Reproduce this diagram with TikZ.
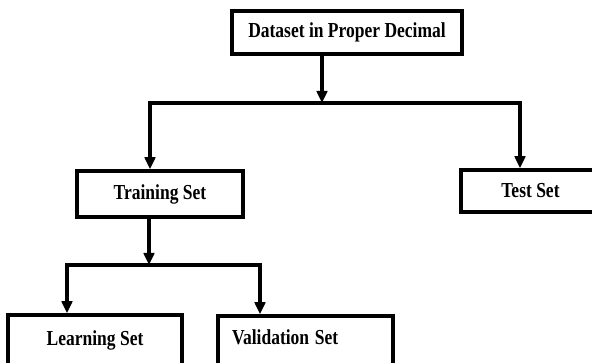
\documentclass[tikz,border=0pt]{standalone}
\usepackage{fontspec}
\setmainfont{Liberation Serif}
\usetikzlibrary{arrows.meta}
\newcommand{\boxtext}[1]{\scalebox{1}[1.22]{#1}}
\begin{document}
\begin{tikzpicture}[x=1pt,y=-1pt,
  box/.style={draw, line width=3.5pt, inner sep=0pt, font=\fontsize{17.5}{20}\selectfont\bfseries, align=center},
  conn/.style={line width=3.3pt, line join=miter},
  arr/.style={conn, -{Triangle[length=12pt,width=10.5pt]}},
  fork/.style={conn, {Triangle[length=12pt,width=10.5pt]}-{Triangle[length=12pt,width=10.5pt]}}]
\useasboundingbox (0,0) rectangle (592,363);
\clip (0,0) rectangle (592,363);
\node[box, minimum width=230pt, minimum height=43pt] (d) at (347,32.5) {\boxtext{Dataset in Proper Decimal}};
\node[box, minimum width=166pt, minimum height=46pt] (t) at (160,194) {\boxtext{Training Set}};
\node[box, minimum width=139pt, minimum height=42pt] (s) at (530.5,191) {\boxtext{Test Set}};
\node[box, minimum width=174pt, minimum height=50pt] (l) at (95,340) {\boxtext{Learning Set}};
\node[box, minimum height=50pt, inner xsep=14pt, text width=147pt, align=left, text depth=7pt] (v) at (305.5,341) {\boxtext{Validation Set}};
\coordinate (j1) at (322,103);
\coordinate (jl) at (150,103);
\coordinate (jr) at (520,103);
\coordinate (j2) at (149,265);
\coordinate (kl) at (67,265);
\coordinate (kr) at (260,265);
\draw[arr] (d.south -| j1) -- (j1);
\draw[fork] (jl |- t.north) -- (jl) -- (jr) -- (jr |- s.north);
\draw[arr] (t.south -| j2) -- (j2);
\draw[fork] (kl |- l.north) -- (kl) -- (kr) -- (kr |- v.north);
\end{tikzpicture}
\end{document}
